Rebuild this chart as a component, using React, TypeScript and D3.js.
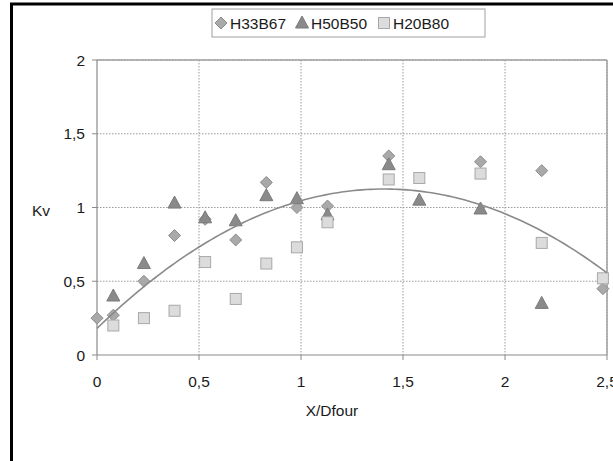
import React from "react";
import * as d3 from "d3";

const seriesH33B67 = [
  [0, 0.25], [0.08, 0.27], [0.23, 0.5], [0.38, 0.81], [0.53, 0.92], [0.68, 0.78],
  [0.83, 1.17], [0.98, 1.0], [1.13, 1.01], [1.43, 1.35], [1.88, 1.31], [2.18, 1.25], [2.48, 0.45],
];
const seriesH50B50 = [
  [0.08, 0.4], [0.23, 0.62], [0.38, 1.03], [0.53, 0.93], [0.68, 0.91], [0.83, 1.08],
  [0.98, 1.06], [1.13, 0.95], [1.43, 1.29], [1.58, 1.05], [1.88, 0.99], [2.18, 0.35],
];
const seriesH20B80 = [
  [0.08, 0.2], [0.23, 0.25], [0.38, 0.3], [0.53, 0.63], [0.68, 0.38], [0.83, 0.62],
  [0.98, 0.73], [1.13, 0.9], [1.43, 1.19], [1.58, 1.2], [1.88, 1.23], [2.18, 0.76], [2.48, 0.52],
];
const trendCoefficients = [0.18, 1.343, -0.477];
const xTicks = [0, 0.5, 1, 1.5, 2, 2.5];
const yTicks = [0, 0.5, 1, 1.5, 2];
const seriesNames = ["H33B67", "H50B50", "H20B80"];

const fmt = (v: number) => String(v).replace(".", ",");

const W = 613;
const H = 461;
const plot = { left: 97, right: 607, top: 60, bottom: 355 };
const FONT = "'Liberation Sans', Arial, sans-serif";

function Marker({ kind, x, y }: { kind: string; x: number; y: number }) {
  if (kind === "diamond") {
    const r = 6;
    return (
      <path
        d={`M${x},${y - r}L${x + r},${y}L${x},${y + r}L${x - r},${y}Z`}
        fill="#a9a9a9"
        stroke="#8c8c8c"
        strokeWidth={1}
      />
    );
  }
  if (kind === "triangle") {
    return (
      <path
        d={`M${x},${y - 7}L${x + 6.5},${y + 5}L${x - 6.5},${y + 5}Z`}
        fill="#8a8a8a"
        stroke="#7a7a7a"
        strokeWidth={1}
      />
    );
  }
  return (
    <rect x={x - 5.5} y={y - 5.5} width={11} height={11} fill="#dcdcdc" stroke="#a8a8a8" strokeWidth={1} />
  );
}

export default function App() {
  const x = d3.scaleLinear().domain([0, 2.5]).range([plot.left, plot.right]);
  const y = d3.scaleLinear().domain([0, 2]).range([plot.bottom, plot.top]);

  const trendPts = d3.range(0, 2.5001, 0.02).map((v) => [
    v,
    trendCoefficients[0] + trendCoefficients[1] * v + trendCoefficients[2] * v * v,
  ]);
  const line = d3
    .line<number[]>()
    .x((d) => x(d[0]))
    .y((d) => y(d[1]))
    .curve(d3.curveMonotoneX);

  const series = [
    { name: seriesNames[0], kind: "diamond", data: seriesH33B67 },
    { name: seriesNames[1], kind: "triangle", data: seriesH50B50 },
    { name: seriesNames[2], kind: "square", data: seriesH20B80 },
  ];

  const legendItems = [
    { kind: "diamond", mx: 221, tx: 230 },
    { kind: "triangle", mx: 302, tx: 311 },
    { kind: "square", mx: 384, tx: 393 },
  ];

  return (
    <svg
      width={W}
      height={H}
      style={{ position: "absolute", left: 0, top: 0, background: "#fff" }}
      fontFamily={FONT}
    >
      <rect x={0} y={0} width={W} height={H} fill="#fff" />
      <rect x={11.5} y={4} width={720} height={620} fill="none" stroke="#000" strokeWidth={3} />

      {xTicks.slice(1).map((t) => (
        <line
          key={"gx" + t}
          x1={x(t)}
          x2={x(t)}
          y1={plot.top}
          y2={plot.bottom}
          stroke="#9a9a9a"
          strokeWidth={1}
          strokeDasharray="1.5,1.5"
        />
      ))}
      {yTicks.slice(1).map((t) => (
        <line
          key={"gy" + t}
          x1={plot.left}
          x2={plot.right}
          y1={y(t)}
          y2={y(t)}
          stroke="#9a9a9a"
          strokeWidth={1}
          strokeDasharray="1.5,1.5"
        />
      ))}
      <line x1={plot.left} x2={plot.right} y1={plot.top} y2={plot.top} stroke="#a0a0a0" strokeWidth={1.5} />
      <line x1={plot.right} x2={plot.right} y1={plot.top} y2={plot.bottom} stroke="#a0a0a0" strokeWidth={1.5} />
      <line x1={plot.left} x2={plot.left} y1={plot.top} y2={plot.bottom} stroke="#8a8a8a" strokeWidth={1.2} />
      <line x1={plot.left} x2={plot.right} y1={plot.bottom} y2={plot.bottom} stroke="#8a8a8a" strokeWidth={1.2} />
      {yTicks.map((t) => (
        <g key={"ty" + t}>
          <line x1={plot.left - 5} x2={plot.left} y1={y(t)} y2={y(t)} stroke="#8a8a8a" />
          <text x={85} y={y(t) + 5.5} fontSize={15.5} textAnchor="end" fill="#1a1a1a">
            {fmt(t)}
          </text>
        </g>
      ))}
      {xTicks.map((t) => (
        <g key={"tx" + t}>
          <line x1={x(t)} x2={x(t)} y1={plot.bottom} y2={plot.bottom + 5} stroke="#8a8a8a" />
          <text x={x(t)} y={plot.bottom + 32} fontSize={15.5} textAnchor="middle" fill="#1a1a1a">
            {fmt(t)}
          </text>
        </g>
      ))}
      <text x={41} y={216} fontSize={15.5} textAnchor="middle" fill="#1a1a1a">
        Kv
      </text>
      <text x={332} y={416} fontSize={15.5} textAnchor="middle" fill="#1a1a1a">
        X/Dfour
      </text>

      {series.map((s) =>
        s.data.map((d, i) => <Marker key={s.name + i} kind={s.kind} x={x(d[0])} y={y(d[1])} />)
      )}

      <path d={line(trendPts) || ""} fill="none" stroke="#8a8a8a" strokeWidth={1.6} />

      <rect x={212} y={9} width={273} height={28} fill="#fff" stroke="#a0a0a0" strokeWidth={1} />
      {legendItems.map((it, i) => (
        <g key={"lg" + i}>
          <Marker kind={it.kind} x={it.mx} y={23} />
          <text x={it.tx} y={28.5} fontSize={15.5} fill="#1a1a1a">
            {seriesNames[i]}
          </text>
        </g>
      ))}
    </svg>
  );
}
